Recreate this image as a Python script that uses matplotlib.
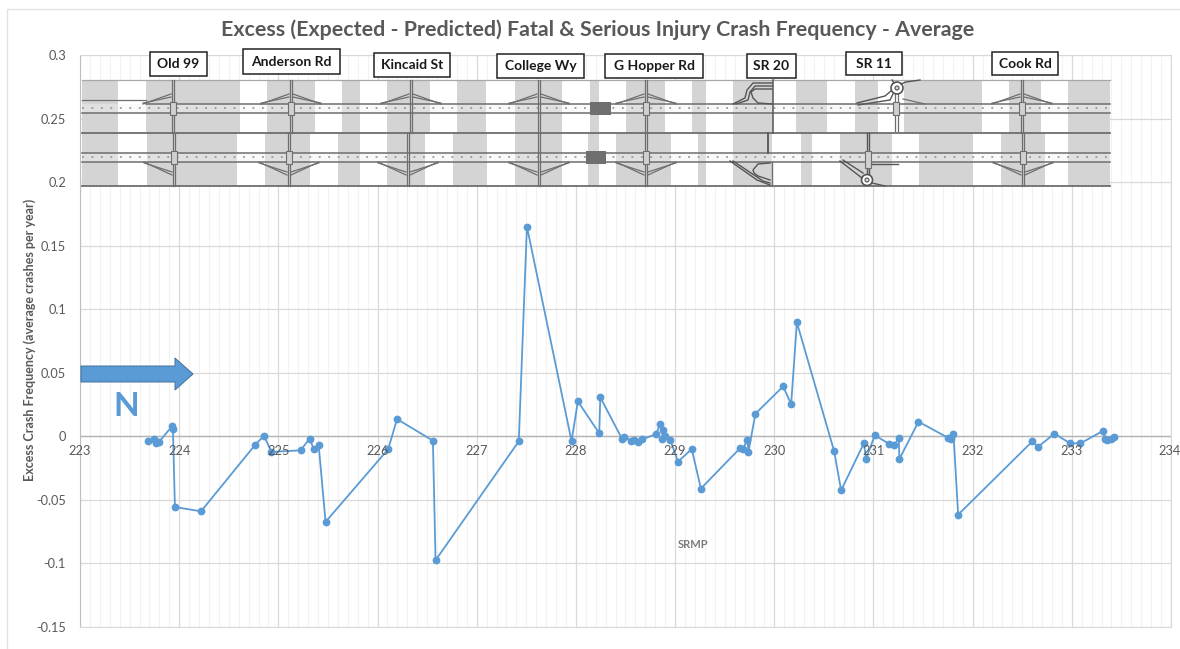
import numpy as np
import matplotlib
matplotlib.use('Agg')
import matplotlib.pyplot as plt
from matplotlib.patches import Rectangle, Polygon, Circle

plt.rcParams['font.family'] = ['Lato', 'DejaVu Sans']

W, H = 1180, 649

# series
srmp = [223.685, 223.746, 223.763, 223.796, 223.927, 223.937, 223.957, 224.22, 224.767, 224.855,
        224.93, 225.224, 225.315, 225.355, 225.406, 225.476, 226.108, 226.196, 226.558, 226.585,
        227.424, 227.506, 227.956, 228.02, 228.235, 228.246, 228.468, 228.488, 228.559, 228.589,
        228.626, 228.67, 228.808, 228.848, 228.875, 228.87, 228.9, 228.95, 229.03, 229.168,
        229.26, 229.657, 229.684, 229.73, 229.74, 229.81, 230.09, 230.17, 230.228, 230.603,
        230.674, 230.903, 230.926, 231.013, 231.16, 231.205, 231.255, 231.262, 231.454, 231.756,
        231.783, 231.807, 231.854, 232.603, 232.657, 232.825, 232.983, 233.087, 233.313, 233.336,
        233.356, 233.397, 233.427]
excess = [-0.0039, -0.0024, -0.005, -0.0045, 0.0079, 0.0055, -0.0556, -0.059, -0.0066, 0.0005,
          -0.0123, -0.011, -0.0018, -0.0097, -0.0066, -0.0673, -0.01, 0.0136, -0.0034, -0.0975,
          -0.0039, 0.165, -0.0037, 0.0275, 0.0024, 0.0307, -0.0024, -0.0005, -0.0039, -0.0026,
          -0.0047, -0.0024, 0.0018, 0.0094, 0.0052, -0.0018, 0.0003, -0.0026, -0.0199, -0.01,
          -0.0411, -0.0092, -0.0097, -0.0029, -0.012, 0.0178, 0.0393, 0.0252, 0.0896, -0.0115,
          -0.0425, -0.0055, -0.0176, 0.0008, -0.006, -0.0071, -0.0016, -0.0178, 0.0115, -0.0013,
          -0.0021, 0.0016, -0.0616, -0.0039, -0.0084, 0.0021, -0.0055, -0.0055, 0.0042, -0.0021,
          -0.0031, -0.0021, -0.0003]

x_ticks = list(range(223, 235))
y_ticks = [-0.15, -0.1, -0.05, 0, 0.05, 0.1, 0.15, 0.2, 0.25, 0.3]
y_labels = ['-0.15', '-0.1', '-0.05', '0', '0.05', '0.1', '0.15', '0.2', '0.25', '0.3']

# crossroad labels: name, box left, box right, box top, box bottom (pixels)
cross_names = ['Old 99', 'Anderson Rd', 'Kincaid St', 'College Wy', 'G Hopper Rd', 'SR 20', 'SR 11', 'Cook Rd']
cross_boxes = [(150, 207, 52, 76), (243, 340, 49, 74), (374, 450, 53, 77), (497, 584, 54, 78),
               (605, 703, 54, 78), (747, 796, 54, 78), (846, 902, 52, 75), (992, 1058, 52, 75)]

# grey bands behind the road strips
upper_bands = [(82, 118), (146, 240), (267, 315), (342, 360), (387, 430), (457, 486), (515, 562),
               (590, 599), (626, 665), (692, 706), (733, 773), (796, 827), (855, 878), (904, 982),
               (1009, 1041), (1068, 1110)]
lower_bands = [(82, 118), (147, 237), (265, 310), (338, 360), (387, 425), (453, 487), (515, 562),
               (588, 599), (616, 671), (698, 706), (733, 772), (801, 812), (840, 892), (919, 973),
               (1001, 1045), (1068, 1110)]
upper_cross = [173, 291, 411, 539, 646, 1022]
lower_cross = [174, 289, 408, 539, 646, 1023]
upper_signal = [173, 291, 646, 1022]
lower_signal = [174, 289, 646, 1023]

LINE = '#5B9BD5'
GRID = '#d9d9d9'
MINOR = '#f2f2f2'
TXT = '#595959'
ROAD = '#6e6e6e'
DARK = '#555555'

fig = plt.figure(figsize=(W / 100, H / 100), dpi=100, facecolor='white')

# ---------- main chart ----------
ax = fig.add_axes([80 / W, 1 - 627 / H, (1171 - 80) / W, (627 - 55) / H])
ax.plot(srmp, excess, color=LINE, linewidth=1.3, marker='o', markersize=4.6, zorder=5)
ax.axis([223, 234, -0.15, 0.3])
ax.set_xticks(x_ticks)
ax.set_xticks(np.arange(223, 234.01, 0.1), minor=True)
ax.set_yticks(y_ticks)
ax.set_yticklabels(y_labels, size=9.2, color=TXT)
ax.tick_params(axis='both', which='both', length=0)
ax.tick_params(axis='y', pad=10)
ax.xaxis.set_tick_params(labelbottom=False)
ax.grid(which='major', color=GRID, linewidth=0.9)
ax.grid(which='minor', axis='x', color=MINOR, linewidth=0.8)
ax.set_axisbelow(True)
for s in ['top', 'right', 'bottom']:
    ax.spines[s].set_color(GRID)
ax.spines['left'].set_color('#bfbfbf')
ax.axhline(0, color='#b5b5b5', linewidth=1.0, zorder=1)
for t in x_ticks:
    # last label sits against the image edge
    ax.text(t if t < 234 else 233.985, -0.0115, str(t), ha='center', va='center', fontsize=9.2,
            color=TXT, zorder=6)

# ---------- overlay in pixel coordinates ----------
ov = fig.add_axes([0, 0, 1, 1], facecolor='none')
ov.set_xlim(0, W)
ov.set_ylim(H, 0)
ov.axis('off')

# outer frame of the pasted chart
ov.plot([6.5, 6.5, W], [H, 9, 9], color='#e3e3e3', linewidth=1.0)

ov.text(598, 30, 'Excess (Expected - Predicted) Fatal & Serious Injury Crash Frequency - Average',
        ha='center', va='center', fontsize=15.4, fontweight='bold', color=TXT)
ov.text(30, 340, 'Excess Crash Frequency (average crashes per year)', rotation=90,
        ha='center', va='center', fontsize=9, fontweight='bold', color=TXT)
ov.text(693, 545, 'SRMP', ha='center', va='center', fontsize=8, fontweight='bold', color='#7a7a7a')

# road diagram
ov.add_patch(Rectangle((82, 80), 1028, 106, facecolor='white', edgecolor='none', zorder=1))
for a, b in upper_bands:
    ov.add_patch(Rectangle((a, 80), b - a, 53, facecolor='#d4d4d4', edgecolor='none', zorder=2))
for a, b in lower_bands:
    ov.add_patch(Rectangle((a, 133), b - a, 53, facecolor='#d4d4d4', edgecolor='none', zorder=2))


def road(y, ytop, ybot):
    ov.add_patch(Rectangle((82, ytop), 1028, ybot - ytop, facecolor='#f4f4f4', edgecolor='none', alpha=0.4, zorder=3))
    ov.plot([82, 1110], [ybot, ybot], color=ROAD, linewidth=1.1, zorder=4)
    ov.plot([82, 1110], [y, y], color='#8a8a8a', linewidth=1.1, linestyle=(0, (1.2, 5)), zorder=4)


road(108, 104, 113)
road(157, 152.5, 162)
ov.plot([146, 1110], [104, 104], color=ROAD, linewidth=1.1, zorder=4)
ov.plot([82, 146], [100, 100], color=ROAD, linewidth=0.9, zorder=4)
ov.plot([82, 1110], [152.5, 152.5], color=ROAD, linewidth=1.1, zorder=4)
ov.plot([82, 1110], [80, 80], color='#a8a8a8', linewidth=0.9, zorder=4)
ov.plot([82, 1110], [133, 133], color=ROAD, linewidth=1.3, zorder=4)
ov.plot([82, 1110], [186, 186], color=ROAD, linewidth=1.3, zorder=4)

# crossroads and ramps
for i, x in enumerate(upper_cross):
    for dx in (-1.2, 1.2):
        ov.plot([x + dx, x + dx], [80, 133], color=ROAD, linewidth=0.9, zorder=5)
    for s in ([-1, 1] if i else [-1]):
        for dy in (0, 3):
            ov.plot([x + s * 30, x + s * 2], [104 - dy * 0.3, 94 + dy], color=ROAD, linewidth=0.9, zorder=5)
for i, x in enumerate(lower_cross):
    for dx in (-1.2, 1.2):
        ov.plot([x + dx, x + dx], [133, 186], color=ROAD, linewidth=0.9, zorder=5)
    for s in ([-1, 1] if i else [-1]):
        for dy in (0, 3):
            ov.plot([x + s * 30, x + s * 2], [162 + dy * 0.3, 175 - dy], color=ROAD, linewidth=0.9, zorder=5)
for x in upper_signal:
    ov.add_patch(Rectangle((x - 3, 102), 6, 13, facecolor='#d0d0d0', edgecolor=ROAD, linewidth=0.8, zorder=6))
for x in lower_signal:
    ov.add_patch(Rectangle((x - 3, 151), 6, 13, facecolor='#d0d0d0', edgecolor=ROAD, linewidth=0.8, zorder=6))

# SR 20 interchange
ov.plot([773, 773], [80, 133], color=DARK, linewidth=1.1, zorder=5)
ov.plot([733, 745, 747, 753, 772], [104, 98, 90, 83, 83], color=DARK, linewidth=1.0, zorder=5)
ov.plot([736, 748, 750, 755, 772], [104, 100, 92, 86, 86], color=DARK, linewidth=1.0, zorder=5)
ov.plot([772, 755, 751, 753, 758, 772], [89, 89, 92, 98, 103, 104], color=DARK, linewidth=1.0, zorder=5)
ov.plot([768, 768], [133, 153], color=DARK, linewidth=1.3, zorder=5)
ov.plot([772, 772], [162, 186], color=ROAD, linewidth=1.0, zorder=5)
ov.plot([730, 757, 770], [161, 180, 185], color=DARK, linewidth=1.0, zorder=5)
ov.plot([733, 763, 770], [161, 181, 183], color=DARK, linewidth=1.0, zorder=5)
ov.plot([770, 758, 753, 754, 758, 770], [163, 164, 170, 173, 176, 180], color=DARK, linewidth=1.0, zorder=5)

# SR 11 interchange
ov.plot([895, 895], [92, 131], color=ROAD, linewidth=0.9, zorder=5)
ov.plot([898, 898], [92, 131], color=ROAD, linewidth=0.9, zorder=5)
ov.add_patch(Circle((897, 88), 6, facecolor='white', edgecolor=DARK, linewidth=1.2, zorder=5))
ov.add_patch(Circle((897, 88), 2, facecolor='#d4d4d4', edgecolor=DARK, linewidth=0.8, zorder=5))
ov.plot([857, 885, 891], [103, 96, 91], color=DARK, linewidth=1.0, zorder=5)
ov.plot([858, 890, 893], [105, 100, 94], color=DARK, linewidth=1.0, zorder=5)
ov.plot([901, 906, 920], [84, 82, 80], color=DARK, linewidth=1.0, zorder=5)
ov.plot([894, 892], [83, 80], color=DARK, linewidth=1.0, zorder=5)
ov.plot([903, 925], [99, 104], color=ROAD, linewidth=0.9, zorder=5)
ov.add_patch(Rectangle((893, 102), 6, 13, facecolor='#d0d0d0', edgecolor=ROAD, linewidth=0.8, zorder=6))
for dx in (-1.2, 1.2):
    ov.plot([868 + dx, 868 + dx], [133, 175], color=DARK, linewidth=1.0, zorder=5)
ov.add_patch(Circle((867, 180), 5.5, facecolor='white', edgecolor=DARK, linewidth=1.2, zorder=5))
ov.add_patch(Circle((867, 180), 2, facecolor='#d4d4d4', edgecolor=DARK, linewidth=0.8, zorder=5))
ov.plot([840, 862], [161, 178], color=DARK, linewidth=1.0, zorder=5)
ov.plot([843, 863], [160, 173], color=DARK, linewidth=1.0, zorder=5)
ov.plot([872, 885], [183, 186], color=DARK, linewidth=1.0, zorder=5)
ov.plot([872, 898], [164, 164], color=DARK, linewidth=1.0, zorder=5)
ov.add_patch(Rectangle((865, 151), 6, 17, facecolor='#d0d0d0', edgecolor=ROAD, linewidth=0.8, zorder=6))

# dark grey blocks on the road
ov.add_patch(Rectangle((590, 102), 21, 13, facecolor='#6f6f6f', edgecolor='none', zorder=6))
ov.add_patch(Rectangle((586, 151), 20, 13, facecolor='#6f6f6f', edgecolor='none', zorder=6))

# crossroad name boxes
for name, (x0, x1, y0, y1) in zip(cross_names, cross_boxes):
    ov.add_patch(Rectangle((x0, y0), x1 - x0, y1 - y0, facecolor='white', edgecolor='#222222', linewidth=1.1, zorder=7))
    ov.text((x0 + x1) / 2, (y0 + y1) / 2, name, ha='center', va='center', fontsize=10,
            fontweight='bold', color='#1a1a1a', zorder=8)

# direction arrow
ov.add_patch(Polygon([(81, 366), (175, 366), (175, 358), (193, 374), (175, 390), (175, 382), (81, 382)],
                     closed=True, facecolor=LINE, edgecolor='#41719c', linewidth=0.7, zorder=6))
ov.text(126, 406, 'N', ha='center', va='center', fontsize=24, fontweight='bold', color=LINE, zorder=6)

plt.savefig('out.png', dpi=100)
